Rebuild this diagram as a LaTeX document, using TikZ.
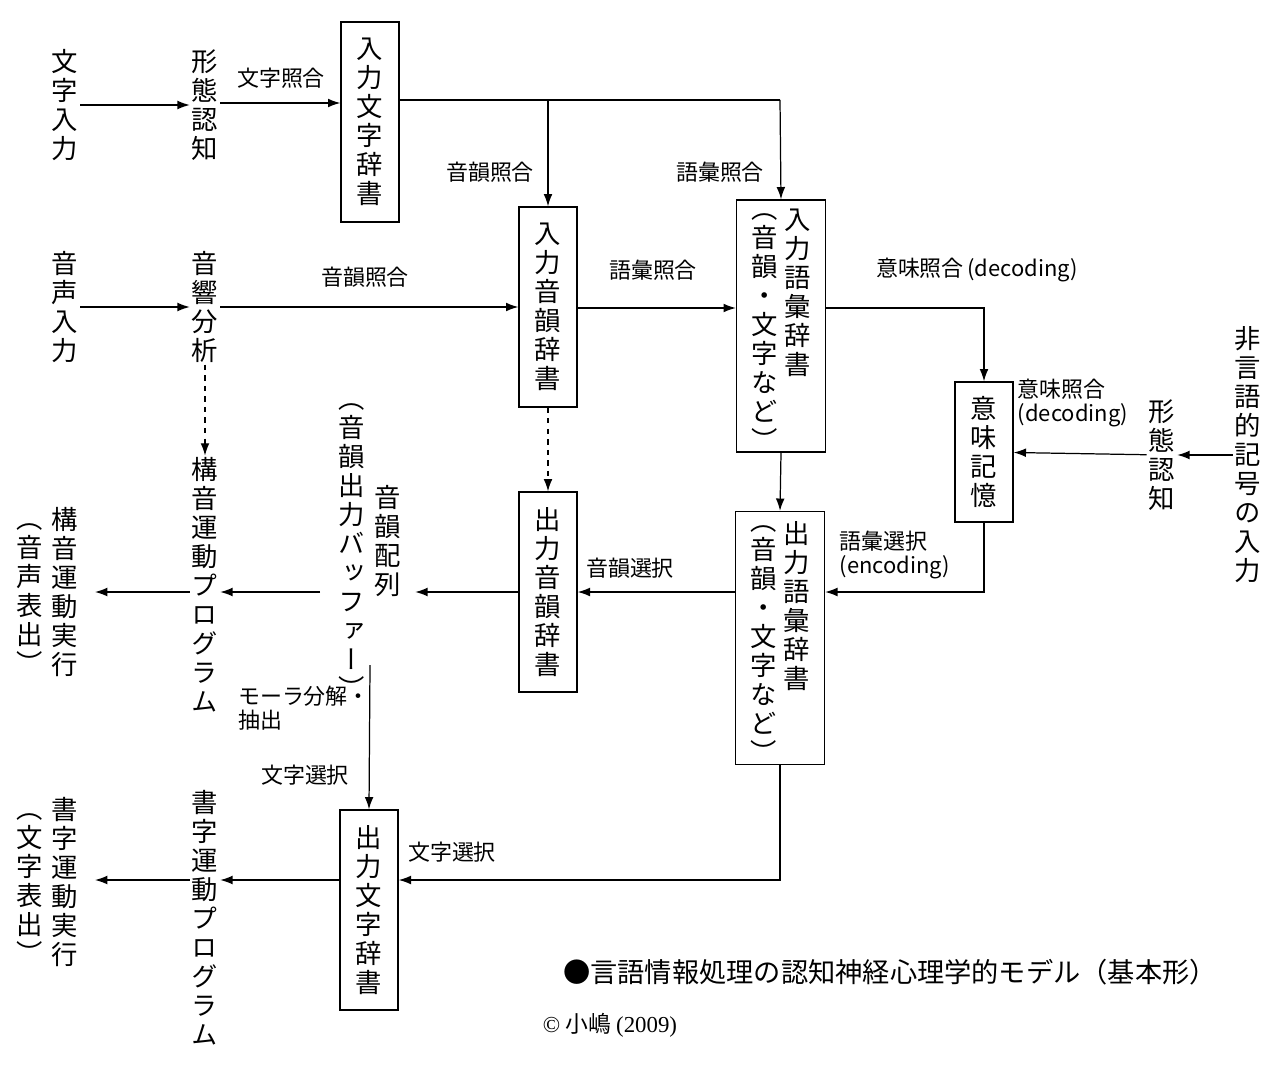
\documentclass[tikz,border=0pt]{standalone}
\usepackage{fontspec}
\setmainfont{Noto Sans CJK JP}
\newfontfamily\vfont{Noto Sans CJK JP}[RawFeature=+vert]
\newfontfamily\serfont{Liberation Serif}
\usetikzlibrary{arrows.meta,calc,positioning}
\tikzset{
  vt/.style={font=\vfont\fontsize{15}{16.5}\selectfont, align=center, inner sep=1pt},
  box/.style={rectangle, draw, line width=0.8pt, minimum width=1.16cm, minimum height=4cm, inner sep=0pt},
  lbl/.style={font=\fontsize{12.5}{13.5}\selectfont, inner sep=1pt},
  arr/.style={-{Latex[length=7pt,width=5pt]}, line width=0.7pt},
  darr/.style={arr, dashed}
}
\begin{document}
\begin{tikzpicture}[x=0.02cm, y=-0.02cm]
      \useasboundingbox (0,0) rectangle (1280,1064);
      % row 1
      \node[vt] (MI) at (65,105) { 文\\字\\入\\力 };
      \node[vt] (KN) at (205,105) { 形\\態\\認\\知 };
      \node[box, vt, minimum height=4cm] (IM) at (370,122) { 入\\力\\文\\字\\辞\\書 };
      \coordinate (J) at (548,100);
      \coordinate (J2) at (780,100);
      % row 2
      \node[vt] (OI) at (65,307) { 音\\声\\入\\力 };
      \node[vt] (OB) at (205,307) { 音\\響\\分\\析 };
      \node[box, vt] (IO) at (548,307) { 入\\力\\音\\韻\\辞\\書 };
      \node[box, minimum width=1.78cm, minimum height=5.04cm] (IG) at (781,326) {};
      \node[vt, anchor=north] at (798,207) { 入\\力\\語\\彙\\辞\\書 };
      \node[vt, anchor=north] at (765,212) { （\\音\\韻\\・\\文\\字\\な\\ど\\） };
      \node[box, vt, minimum height=2.8cm] (IK) at (984,452) { 意\\味\\記\\憶 };
      \node[vt] (HG) at (1248,455) { 非\\言\\語\\的\\記\\号\\の\\入\\力 };
      \node[vt] (KN2) at (1162,455) { 形\\態\\認\\知 };
      % row 3
      \node[box, minimum width=1.78cm, minimum height=5.06cm] (OG) at (780,638) {};
      \node[vt, anchor=north] at (797,519) { 出\\力\\語\\彙\\辞\\書 };
      \node[vt, anchor=north] at (764,524) { （\\音\\韻\\・\\文\\字\\な\\ど\\） };
      \node[box, vt] (OO) at (548,592) { 出\\力\\音\\韻\\辞\\書 };
      \node[vt, anchor=north] (HR) at (388,483) { 音\\韻\\配\\列 };
      \node[vt, anchor=north] (BF) at (352,402) { （\\音\\韻\\出\\力\\バ\\ッ\\フ\\ァ\\ー\\） };
      \node[vt] (KP) at (205,585) { 構\\音\\運\\動\\プ\\ロ\\グ\\ラ\\ム };
      \node[vt, anchor=north] (KJ) at (65,505) { 構\\音\\運\\動\\実\\行 };
      \node[vt, anchor=north] at (30,522) { （\\音\\声\\表\\出\\） };
      % row 4
      \node[box, vt] (OM) at (369,910) { 出\\力\\文\\字\\辞\\書 };
      \node[vt] (SP) at (205,918) { 書\\字\\運\\動\\プ\\ロ\\グ\\ラ\\ム };
      \node[vt, anchor=north] (SJ) at (65,795) { 書\\字\\運\\動\\実\\行 };
      \node[vt, anchor=north] at (30,812) { （\\文\\字\\表\\出\\） };
      \coordinate (B) at (370,665);
      % labels
      \node[lbl] at (281,78) { 文字照合 };
      \node[lbl] at (490,172) { 音韻照合 };
      \node[lbl] at (720,172) { 語彙照合 };
      \node[lbl] at (365,277) { 音韻照合 };
      \node[lbl] at (653,270) { 語彙照合 };
      \node[lbl] at (977,270) { 意味照合\,(decoding) };
      \node[lbl, align=left] at (1073,403) { 意味照合\\(decoding) };
      \node[lbl, align=left] at (895,555) { 語彙選択\\(encoding) };
      \node[lbl] at (630,568) { 音韻選択 };
      \node[lbl, align=left, anchor=west] at (236,708) { モーラ分解・\\抽出 };
      \node[lbl] at (305,775) { 文字選択 };
      \node[lbl] at (452,852) { 文字選択 };
      \node[font=\fontsize{15.5}{17}\selectfont] (T) at (890,972) { ●言語情報処理の認知神経心理学的モデル（基本形） };
      \node[font=\fontsize{13}{15}\selectfont] (C) at (610,1025) { {\serfont ©} 小嶋 {\serfont (2009)} };
      % connectors
      \draw[arr] (MI) -- (KN);
      \draw[arr] (KN.east |- 0,103) -- (IM.west |- 0,103);
      \draw[line width=0.7pt] (IM.east |- J) -- (J2);
      \draw[arr] (J) -- (IO.north);
      \draw[arr] (J2) -- (IG.north);
      \draw[arr] (OI) -- (OB);
      \draw[arr] (OB) -- (IO);
      \draw[arr] (IO.east |- 0,308) -- (IG.west |- 0,308);
      \draw[arr] (IG.east |- 0,308) -| (IK.north);
      \draw[arr] (HG) -- (KN2);
      \draw[arr] (KN2) -- (IK);
      \draw[arr] (IK.south) |- (OG.east |- 0,592);
      \draw[arr] (IG.south) -- (OG.north);
      \draw[darr] (IO.south) -- (OO.north);
      \draw[darr] (OB.south) -- (KP.north);
      \draw[arr] (OG.west |- 0,592) -- (OO.east |- 0,592);
      \draw[arr] (OO.west |- 0,592) -- ($(HR.east |- 0,592)+(12,0)$);
      \draw[arr] (320,592) -- (KP.east |- 0,592);
      \draw[arr] (KP.west |- 0,592) -- (95,592);
      \draw[arr] (B) -- (OM.north);
      \draw[arr] (OG.south) |- (OM.east |- 0,880);
      \draw[arr] (OM.west |- 0,880) -- (SP.east |- 0,880);
      \draw[arr] (SP.west |- 0,880) -- (95,880);
    \end{tikzpicture}
\end{document}
